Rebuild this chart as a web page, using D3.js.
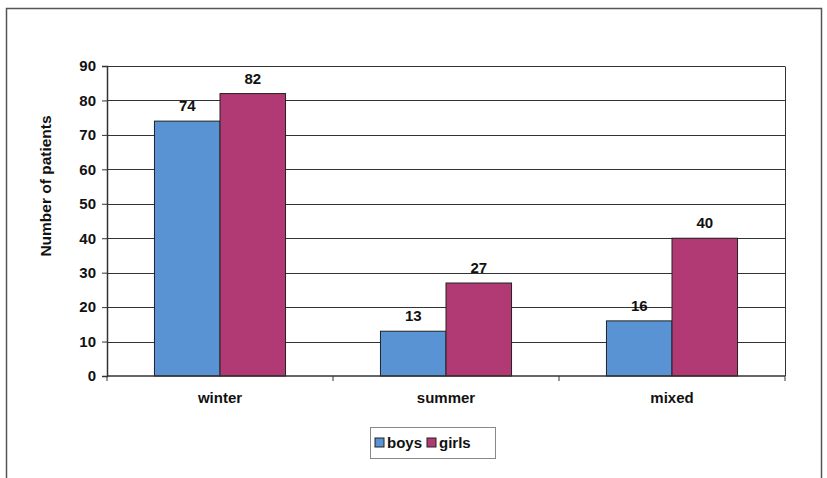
<!DOCTYPE html>
<html>
<head>
<meta charset="utf-8">
<script src="https://cdn.jsdelivr.net/npm/d3@7"></script>
<style>
  body { margin: 0; background: #fff; }
  text { font-family: "Liberation Sans", Arial, sans-serif; font-weight: bold; fill: #111; }
</style>
</head>
<body>
<div id="chart"></div>
<script>
// chart data
var categories = ["winter", "summer", "mixed"];
var seriesNames = ["boys", "girls"];
var boys = [74, 13, 16];
var girls = [82, 27, 40];
var yTicks = [0, 10, 20, 30, 40, 50, 60, 70, 80, 90];

var colors = { boys: "#5a93d4", girls: "#b23a74" };

var svgWidth = 827;
var svgHeight = 478;
var margin = { top: 66, right: 42, bottom: 102, left: 107 };
var width = svgWidth - margin.left - margin.right;
var height = svgHeight - margin.top - margin.bottom;

var svg = d3.select("#chart")
  .append("svg")
  .attr("width", svgWidth)
  .attr("height", svgHeight);

// outer frame
svg.append("rect")
  .attr("x", 6.5)
  .attr("y", 8.5)
  .attr("width", 815)
  .attr("height", 490)
  .attr("fill", "none")
  .attr("stroke", "#555")
  .attr("stroke-width", 1.5);

var chartGroup = svg.append("g")
  .attr("transform", `translate(${margin.left}, ${margin.top})`);

var data = categories.map(function(c, i) {
  return { cat: c, boys: boys[i], girls: girls[i] };
});

var x0 = d3.scaleBand()
  .domain(categories)
  .range([0, width])
  .paddingInner(0.42)
  .paddingOuter(0.21);

var x1 = d3.scaleBand()
  .domain(seriesNames)
  .range([0, x0.bandwidth()]);

var y = d3.scaleLinear()
  .domain([0, 90])
  .range([height, 0]);

// gridlines
chartGroup.append("g")
  .selectAll("line")
  .data(yTicks.slice(1))
  .enter()
  .append("line")
  .attr("x1", 0)
  .attr("x2", width)
  .attr("y1", d => Math.round(y(d)) + 0.5)
  .attr("y2", d => Math.round(y(d)) + 0.5)
  .attr("stroke", "#333")
  .attr("stroke-width", 1);

// right edge of plot
chartGroup.append("line")
  .attr("x1", width + 0.5).attr("x2", width + 0.5)
  .attr("y1", Math.round(y(90)) + 0.5).attr("y2", height)
  .attr("stroke", "#333");

// y axis
var yAxis = d3.axisLeft(y).tickValues(yTicks).tickSize(5).tickPadding(6);
var yG = chartGroup.append("g").call(yAxis);
yG.select(".domain").attr("stroke", "#333").attr("stroke-width", 1.5);
yG.selectAll(".tick line").attr("stroke", "#333");
yG.selectAll("text").style("font-size", "15px").style("font-weight", "bold")
  .style("font-family", "Liberation Sans, Arial, sans-serif").attr("fill", "#111");

// bars
var groups = chartGroup.selectAll(".cat")
  .data(data)
  .enter()
  .append("g")
  .attr("transform", d => `translate(${x0(d.cat)}, 0)`);

groups.selectAll("rect")
  .data(d => seriesNames.map(k => ({ key: k, value: d[k] })))
  .enter()
  .append("rect")
  .attr("x", d => x1(d.key))
  .attr("y", d => y(d.value))
  .attr("width", x1.bandwidth())
  .attr("height", d => height - y(d.value))
  .attr("fill", d => colors[d.key])
  .attr("stroke", "#222")
  .attr("stroke-width", 1);

// value labels
groups.selectAll(".val")
  .data(d => seriesNames.map(k => ({ key: k, value: d[k] })))
  .enter()
  .append("text")
  .attr("x", d => x1(d.key) + x1.bandwidth() / 2)
  .attr("y", d => y(d.value) - 10)
  .attr("text-anchor", "middle")
  .style("font-size", "15px")
  .text(d => d.value);

// x axis
var step = width / categories.length;
var xG = chartGroup.append("g")
  .attr("transform", `translate(0, ${height})`);
xG.append("line")
  .attr("x1", 0).attr("x2", width)
  .attr("stroke", "#333").attr("stroke-width", 1.5);
xG.selectAll(".sep")
  .data(d3.range(categories.length + 1))
  .enter()
  .append("line")
  .attr("x1", d => d * step).attr("x2", d => d * step)
  .attr("y1", 0).attr("y2", 5)
  .attr("stroke", "#333");
xG.selectAll(".lbl")
  .data(categories)
  .enter()
  .append("text")
  .attr("x", d => x0(d) + x0.bandwidth() / 2)
  .attr("y", 27)
  .attr("text-anchor", "middle")
  .style("font-size", "15px")
  .text(d => d);

// y axis title
svg.append("text")
  .attr("transform", "translate(51, 186) rotate(-90)")
  .attr("text-anchor", "middle")
  .style("font-size", "15.5px")
  .text("Number of patients");

// legend
var legend = svg.append("g").attr("transform", "translate(370, 427)");
legend.append("rect")
  .attr("x", 0.5).attr("y", 0.5)
  .attr("width", 125).attr("height", 31)
  .attr("fill", "#fff")
  .attr("stroke", "#888");
var legendX = [5, 57];
seriesNames.forEach(function(s, i) {
  legend.append("rect")
    .attr("x", legendX[i]).attr("y", 11)
    .attr("width", 9).attr("height", 9)
    .attr("fill", colors[s])
    .attr("stroke", "#222");
  legend.append("text")
    .attr("x", legendX[i] + 12).attr("y", 21)
    .style("font-size", "15px")
    .text(s);
});
</script>
</body>
</html>
